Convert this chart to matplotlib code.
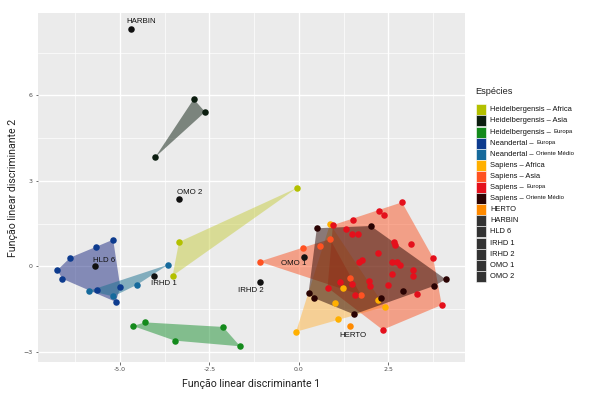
import matplotlib
matplotlib.use("Agg")
import matplotlib.pyplot as plt
from matplotlib.patches import Polygon, Rectangle

# --- dados ---
grupos = ["Heidelbergensis – Africa", "Heidelbergensis – Asia", "Heidelbergensis – Europa",
          "Neandertal – Europa", "Neandertal – Oriente Médio",
          "Sapiens – Africa", "Sapiens – Asia", "Sapiens – Europa", "Sapiens – Oriente Médio",
          "HERTO"]

heid_africa_x = [-0.06, -3.35, -3.53]
heid_africa_y = [2.75, 0.86, -0.33]

heid_asia_x = [-2.94, -2.62, -4.01]
heid_asia_y = [5.87, 5.42, 3.84]

heid_europa_x = [-4.63, -4.31, -2.12, -3.47, -1.64]
heid_europa_y = [-2.09, -1.96, -2.12, -2.60, -2.80]

nean_europa_x = [-6.75, -6.39, -5.68, -5.19, -5.12, -6.61, -5.64, -4.99]
nean_europa_y = [-0.13, 0.31, 0.68, 0.94, -1.24, -0.43, -0.84, -0.73]

nean_om_x = [-5.86, -5.19, -4.52, -3.66]
nean_om_y = [-0.85, -1.05, -0.64, 0.06]

sap_africa_x = [-0.08, 1.08, 1.01, 1.24, 2.21, 2.40, 0.87]
sap_africa_y = [-2.29, -1.85, -1.28, -0.74, -1.19, -1.41, 1.49]

sap_asia_x = [-1.10, 0.11, 0.58, 0.87, 1.42, 1.73]
sap_asia_y = [0.17, 0.66, 0.73, 0.96, -0.41, -1.00]

sap_europa_x = [2.88, 2.25, 2.37, 1.50, 0.95, 1.31, 1.47, 1.64, 2.66, 2.68, 3.14, 2.21, 3.75,
                1.75, 1.69, 2.61, 2.75, 2.83, 3.20, 3.19, 2.59, 2.50, 1.95, 1.98, 1.15, 0.80,
                1.47, 1.57, 3.31, 3.99, 2.34]
sap_europa_y = [2.25, 1.94, 1.80, 1.63, 1.45, 1.30, 1.13, 1.15, 0.87, 0.74, 0.79, 0.48, 0.30,
                0.23, 0.15, 0.16, 0.16, 0.05, -0.12, -0.33, -0.25, -0.66, -0.50, -0.70, -0.54, -0.74,
                -0.60, -1.01, -0.96, -1.35, -2.22]

sap_om_x = [0.50, 2.01, 4.10, 3.78, 1.54, 0.41, 0.27, 2.90, 2.29]
sap_om_y = [1.34, 1.42, -0.45, -0.68, -1.68, -1.10, -0.92, -0.86, -1.12]

herto_x = [1.44]
herto_y = [-2.10]

# especimes isolados
especimes = ["HARBIN", "HLD 6", "IRHD 1", "IRHD 2", "OMO 1", "OMO 2"]
especime_x = [-4.69, -5.71, -4.04, -1.08, 0.15, -3.34]
especime_y = [8.33, 0.00, -0.34, -0.53, 0.32, 2.37]
rotulo_x = [-4.40, -5.45, -3.76, -1.33, -0.14, -3.06]
rotulo_y = [8.58, 0.22, -0.61, -0.85, 0.09, 2.58]
herto_rotulo = (1.51, -2.43)

cores = ["#b3c000", "#0c1e10", "#148a1c", "#0d3b8e", "#166a9c",
         "#ffb000", "#ff5222", "#e4101c", "#2a0303", "#ff8a00"]
cores_fill = ["#c7cd41", "#0c1e10", "#1a9030", "#1c2a82", "#1a7090",
              "#ffb540", "#f95525", "#f95525", "#2a0805", None]
cor_especime = "#111111"

dados = [(heid_africa_x, heid_africa_y), (heid_asia_x, heid_asia_y), (heid_europa_x, heid_europa_y),
         (nean_europa_x, nean_europa_y), (nean_om_x, nean_om_y),
         (sap_africa_x, sap_africa_y), (sap_asia_x, sap_asia_y), (sap_europa_x, sap_europa_y),
         (sap_om_x, sap_om_y), (herto_x, herto_y)]


def casco(xs, ys):
    # casco convexo (monotone chain)
    pts = sorted(set(zip(xs, ys)))
    if len(pts) < 3:
        return pts

    def cross(o, a, b):
        return (a[0] - o[0]) * (b[1] - o[1]) - (a[1] - o[1]) * (b[0] - o[0])
    lower = []
    for p in pts:
        while len(lower) >= 2 and cross(lower[-2], lower[-1], p) <= 0:
            lower.pop()
        lower.append(p)
    upper = []
    for p in reversed(pts):
        while len(upper) >= 2 and cross(upper[-2], upper[-1], p) <= 0:
            upper.pop()
        upper.append(p)
    return lower[:-1] + upper[:-1]


W, H = 600, 398
fig = plt.figure(figsize=(6, 3.98), dpi=100)
fig.patch.set_facecolor("white")
ax = fig.add_axes([38 / W, 1 - 362 / H, (465 - 38) / W, (362 - 13) / H])
ax.set_facecolor("#ebebeb")
for s in ax.spines.values():
    s.set_visible(False)

ax.set_xlim(-7.29, 4.64)
ax.set_ylim(-3.35, 8.89)
ax.set_xticks([-5, -2.5, 0, 2.5])
ax.set_xticklabels(["-5.0", "-2.5", "0.0", "2.5"])
ax.set_yticks([-3, 0, 3, 6])
ax.set_xticks([-6.25, -3.75, -1.25, 1.25, 3.75], minor=True)
ax.set_yticks([-1.5, 1.5, 4.5, 7.5], minor=True)
ax.grid(which="major", color="white", linewidth=1.0)
ax.grid(which="minor", color="white", linewidth=0.5)
ax.set_axisbelow(True)
ax.tick_params(which="major", length=1.8, width=0.5, color="#333333",
               labelsize=4.5, labelcolor="#4d4d4d", pad=2)
ax.tick_params(which="minor", length=0)

# poligonos
for (xs, ys), cf in zip(dados, cores_fill):
    if cf is None:
        continue
    ax.add_patch(Polygon(casco(xs, ys), closed=True, facecolor=cf, alpha=0.5,
                         edgecolor="none", zorder=2))

# pontos
for (xs, ys), c in zip(dados, cores):
    ax.scatter(xs, ys, s=22, color=c, linewidths=0, zorder=3)
ax.scatter(especime_x, especime_y, s=22, color=cor_especime, linewidths=0, zorder=3)

for nome, tx, ty in zip(especimes, rotulo_x, rotulo_y):
    ax.text(tx, ty, nome, fontsize=5.7, family="Liberation Sans", ha="center", va="center",
            color="#111111", zorder=4)
ax.text(herto_rotulo[0], herto_rotulo[1], "HERTO", fontsize=5.7, family="Liberation Sans",
        ha="center", va="center", color="#111111", zorder=4)

fig.text(251.5 / W, 1 - 384 / H, "Função linear discriminante 1", family="Roboto",
         fontsize=7.6, ha="center", va="center", color="#222222")
fig.text(13 / W, 1 - 187.5 / H, "Função linear discriminante 2", family="Roboto",
         fontsize=7.6, ha="center", va="center", rotation=90, color="#222222")

# legenda desenhada a mao
fig.text(475.5 / W, 1 - 91 / H, "Espécies", family="Liberation Sans", fontsize=6.6,
         ha="left", va="center", color="#222222")
leg_labels = grupos + especimes
leg_cores = cores + [cor_especime] * len(especimes)
pequenos = {"Heidelbergensis – Europa", "Neandertal – Europa", "Neandertal – Oriente Médio",
            "Sapiens – Europa", "Sapiens – Oriente Médio"}
renderer = fig.canvas.get_renderer()
y0, dh = 104.3, 11.1
for i, (lab, c) in enumerate(zip(leg_labels, leg_cores)):
    top = y0 + i * dh
    fc = "#333333" if lab in especimes else c
    fig.patches.append(Rectangle((475.7 / W, 1 - (top + dh) / H), 10.6 / W, dh / H,
                                 transform=fig.transFigure, facecolor=fc,
                                 edgecolor="white", linewidth=0.4))
    yc = 1 - (top + dh / 2) / H
    if lab in pequenos:
        a, b = lab.split("– ")
        t = fig.text(490 / W, yc, a + "– ", family="Liberation Sans", fontsize=5.4,
                     ha="left", va="center", color="#111111")
        bb = t.get_window_extent(renderer=renderer)
        fig.text(bb.x1 / W + 0.5 / W, yc + 0.8 / H, b, family="Liberation Sans", fontsize=4.3,
                 ha="left", va="center", color="#111111")
    else:
        fig.text(490 / W, yc, lab, family="Liberation Sans", fontsize=5.4,
                 ha="left", va="center", color="#111111")

fig.savefig("out.png", dpi=100)
